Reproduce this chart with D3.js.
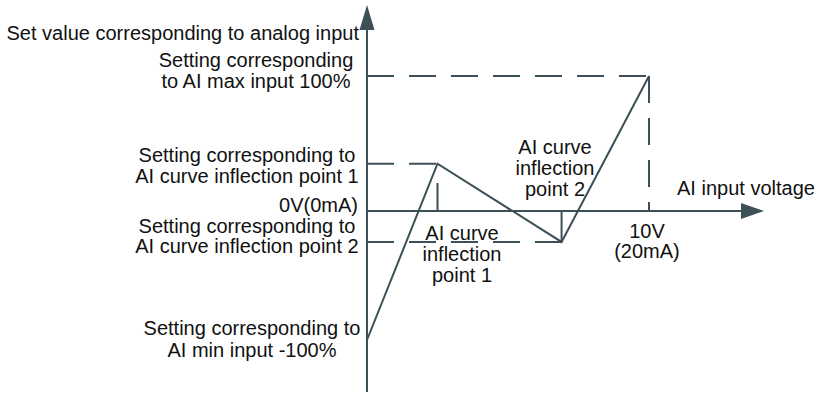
<!DOCTYPE html>
<html lang="en">
<head>
<meta charset="UTF-8">
<title>AI curve setting</title>
<script src="https://d3js.org/d3.v7.min.js"></script>
<style>
  body { margin: 0; background: #fff; }
  text { font-family: "Liberation Sans", Arial, sans-serif; font-size: 20px; fill: #111; }
  .ax, .curve, .tick { stroke: #3d4f57; stroke-width: 2; fill: none; }
  .guide { stroke: #3d4f57; stroke-width: 2; stroke-dasharray: 27,15; fill: none; }
</style>
</head>
<body>
<svg id="chart" width="820" height="394"></svg>
<script>
// curve points: input voltage (V) vs setting (%)
const voltages = [0, 2.5, 6.9, 10];
const settings = [-100, 35, -24, 100];

const xLabels = ["10V", "(20mA)"];
const originLabel = "0V(0mA)";
const yTitle = "Set value corresponding to analog input";
const xTitle = "AI input voltage";
const leftNotes = [
  ["Setting corresponding", "to AI max input 100%"],
  ["Setting corresponding to", "AI curve inflection point 1"],
  ["Setting corresponding to", "AI curve inflection point 2"],
  ["Setting corresponding to", "AI min input -100%"]
];
const pointNotes = [
  ["AI curve", "inflection", "point 1"],
  ["AI curve", "inflection", "point 2"]
];

const svg = d3.select("#chart");
const x = d3.scaleLinear().domain([0, 10]).range([367, 649]);
const y = d3.scaleLinear().domain([-100, 0, 100]).range([340, 211, 76]);

const pts = voltages.map((v, i) => ({ v: v, s: settings[i] }));
const x0 = x(0), y0 = y(0);

// axes
svg.append("line").attr("class", "ax")
  .attr("x1", x0).attr("x2", x0).attr("y1", 392).attr("y2", 26);
svg.append("path").attr("fill", "#3d4f57")
  .attr("d", `M${x0},5 L${x0 - 7.5},30 L${x0 + 7.5},30 Z`);
svg.append("line").attr("class", "ax")
  .attr("x1", x0).attr("x2", 745).attr("y1", y0).attr("y2", y0);
svg.append("path").attr("fill", "#3d4f57")
  .attr("d", `M764,${y0} L741,${y0 - 8} L741,${y0 + 8} Z`);

// dashed guides
const pMax = pts[3], p1 = pts[1], p2 = pts[2];
svg.append("line").attr("class", "guide")
  .attr("x1", x0).attr("x2", x(pMax.v)).attr("y1", y(pMax.s)).attr("y2", y(pMax.s));
svg.append("line").attr("class", "guide")
  .attr("x1", x(pMax.v)).attr("x2", x(pMax.v)).attr("y1", y(pMax.s)).attr("y2", y0);
svg.append("line").attr("class", "guide")
  .attr("x1", x0).attr("x2", x(p1.v)).attr("y1", y(p1.s)).attr("y2", y(p1.s));
svg.append("line").attr("class", "guide")
  .attr("x1", x0).attr("x2", x(p2.v)).attr("y1", y(p2.s)).attr("y2", y(p2.s));

// short solid ticks at inflection points
svg.append("line").attr("class", "tick")
  .attr("x1", x(p1.v)).attr("x2", x(p1.v)).attr("y1", y0).attr("y2", y0 - 28);
svg.append("line").attr("class", "tick")
  .attr("x1", x(p2.v)).attr("x2", x(p2.v)).attr("y1", y0).attr("y2", y(p2.s));

// the curve
const line = d3.line().x(d => x(d.v)).y(d => y(d.s));
svg.append("path").datum(pts).attr("class", "curve")
  .attr("stroke-linejoin", "miter").attr("d", line);

// text helpers
function block(lines, cx, baseline, anchor, step) {
  const t = svg.append("text").attr("text-anchor", anchor || "middle");
  lines.forEach((s, i) => {
    t.append("tspan").attr("x", cx).attr("y", baseline + i * (step || 21)).text(s);
  });
}

block([yTitle], 359, 40, "end");
block(leftNotes[0], 256, 67, "middle");
block(leftNotes[1], 247, 162, "middle");
block([originLabel], 358, 212, "end");
block(leftNotes[2], 247, 233, "middle", 20);
block(leftNotes[3], 252, 335, "middle", 22);
block(pointNotes[0], 462, 240, "middle", 21);
block(pointNotes[1], 555, 154, "middle", 21);
block([xTitle], 677, 195, "start");
block(xLabels, x(10) - 2, 238, "middle", 20);
</script>
</body>
</html>
